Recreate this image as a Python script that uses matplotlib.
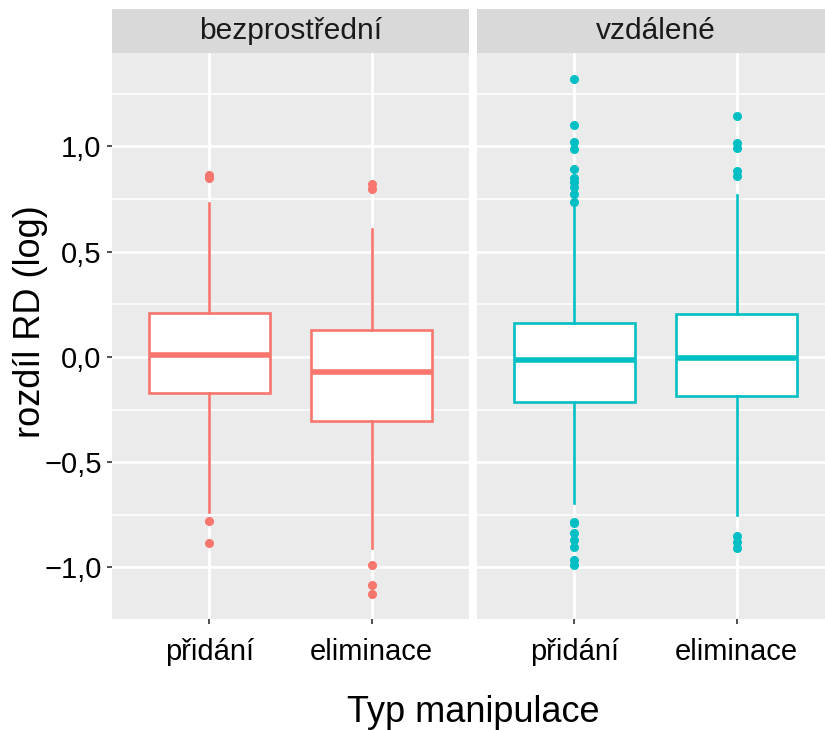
import matplotlib
matplotlib.use("Agg")
import matplotlib.pyplot as plt
from matplotlib.ticker import FuncFormatter, MultipleLocator

plt.rcParams['font.family'] = ['Liberation Sans', 'DejaVu Sans']

# ---- data ----
panels = ["bezprostřední", "vzdálené"]
categories = ["přidání", "eliminace"]
colors = ["#F8766D", "#00BFC4"]

q1 = [[-0.171, -0.304], [-0.214, -0.185]]
med = [[0.008, -0.071], [-0.014, -0.005]]
q3 = [[0.209, 0.128], [0.162, 0.204]]
whislo = [[-0.736, -0.907], [-0.694, -0.751]]
whishi = [[0.73, 0.608], [0.72, 0.77]]
fliers = [
    [[0.865, 0.85, -0.78, -0.884],
     [0.822, 0.798, -0.988, -1.083, -1.126]],
    [[1.32, 1.10, 1.02, 0.988, 0.893, 0.85, 0.83, 0.808, 0.774, 0.736,
      -0.784, -0.79, -0.836, -0.869, -0.903, -0.964, -0.988],
     [1.145, 1.017, 0.993, 0.884, 0.86, -0.85, -0.878, -0.907]],
]
yticks = [-1.0, -0.5, 0.0, 0.5, 1.0]

W, H = 825, 730
fig = plt.figure(figsize=(W / 100, H / 100), dpi=100)

def fx(px): return px / W
def fy(py): return 1 - py / H

panel_left = [112, 477]
pw = 357
top, bottom = 53, 619
strip_top = 9

for p in range(2):
    ax = fig.add_axes([fx(panel_left[p]), fy(bottom), pw / W, (bottom - top) / H])
    ax.set_facecolor("#EBEBEB")
    stats = []
    for c in range(2):
        stats.append(dict(med=med[p][c], q1=q1[p][c], q3=q3[p][c],
                          whislo=whislo[p][c], whishi=whishi[p][c],
                          fliers=fliers[p][c]))
    col = colors[p]
    ax.bxp(stats, positions=[1, 2], widths=0.75, patch_artist=True,
           showcaps=False,
           boxprops=dict(facecolor="white", edgecolor=col, linewidth=1.9),
           medianprops=dict(color=col, linewidth=4.0, solid_capstyle="butt"),
           whiskerprops=dict(color=col, linewidth=1.9),
           flierprops=dict(marker="o", markerfacecolor=col, markeredgecolor=col,
                           markersize=5.5, linestyle="none"),
           zorder=3)
    ax.set_xlim(0.4, 2.6)
    ax.set_ylim(-1.245, 1.444)
    ax.set_yticks(yticks)
    ax.yaxis.set_minor_locator(MultipleLocator(0.25))
    ax.set_xticks([1, 2])
    ax.set_xticklabels(categories)
    ax.grid(True, which="major", color="white", linewidth=2.0, zorder=0)
    ax.grid(True, which="minor", axis="y", color="white", linewidth=1.1, zorder=0)
    ax.set_axisbelow(True)
    for s in ax.spines.values():
        s.set_visible(False)
    ax.tick_params(axis="both", which="major", length=3.5, width=1.2, color="#333333",
                   labelsize=21, labelcolor="#000000", pad=4)
    ax.tick_params(axis="y", which="minor", length=0)
    ax.tick_params(axis="x", pad=10)
    if p == 0:
        ax.yaxis.set_major_formatter(FuncFormatter(
            lambda v, pos: f"{v:.1f}".replace(".", ",").replace("-", "\u2212")))
    else:
        ax.tick_params(axis="y", which="both", left=False, labelleft=False)
    # strip
    sax = fig.add_axes([fx(panel_left[p]), fy(top), pw / W, (top - strip_top) / H])
    sax.set_facecolor("#D9D9D9")
    sax.set_xticks([]); sax.set_yticks([])
    for s in sax.spines.values():
        s.set_visible(False)
    sax.text(0.5, 0.5, panels[p], ha="center", va="center", fontsize=21.5,
             color="#1A1A1A", transform=sax.transAxes)

fig.text(fx(31), fy(322), "rozdíl RD (log)", ha="center", va="center",
         rotation=90, fontsize=26, color="#000000")
fig.text(fx(473), fy(712), "Typ manipulace", ha="center", va="center",
         fontsize=26, color="#000000")

fig.savefig("out.png", dpi=100, facecolor="white")
